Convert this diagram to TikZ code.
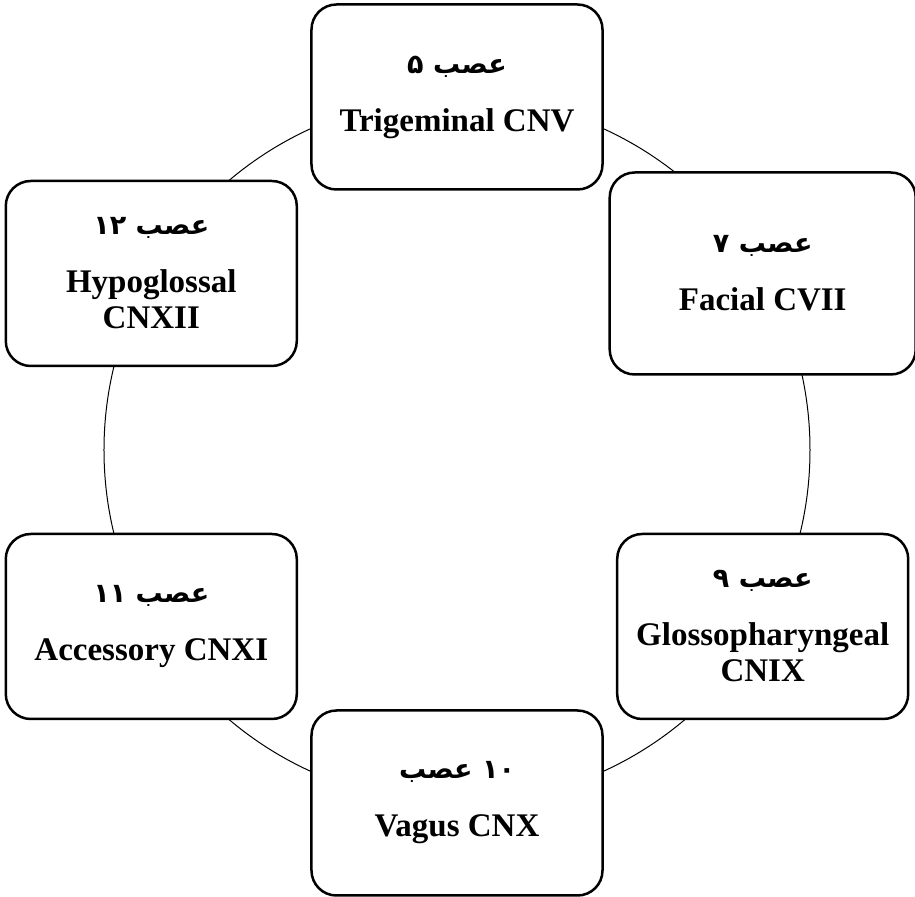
\documentclass[tikz,border=0pt]{standalone}
\usepackage{fontspec}
\setmainfont{Liberation Serif}
\newfontfamily\arabicfont[Script=Arabic]{DejaVu Sans}
\TeXXeTstate=1
\usetikzlibrary{positioning}
\tikzset{
    nerve/.style={
        draw=black,line width=1.25pt,rounded corners=12.5pt,fill=white,
        minimum width=145.5pt,minimum height=92.5pt,align=center,
        inner sep=0pt,font=\fontsize{16.5}{18}\selectfont\bfseries
    },
    nerve big/.style={
        nerve,minimum width=153pt,minimum height=101pt
    },
    ring/.style={draw=black,line width=0.5pt}
}
\newcommand{\asab}[1]{{\arabicfont\fontsize{13.5}{15}\selectfont\beginR عصب #1\endR}}

\begin{document}
\begin{tikzpicture}
\useasboundingbox (-228.5pt,-223.5pt) rectangle (229pt,225pt);

\coordinate (o) at (0,0);
\draw[ring] (o) circle (176.5pt);

% the six nerves round the ring
\node[nerve] (cnv) at (90:176.5pt) {\asab{۵}\\[11pt] Trigeminal CNV};
\node[nerve big] (cnvii) at (30:176.5pt) {\asab{۷}\\[11pt] Facial CVII};
\node[nerve] (cnix) at (-30:176.5pt) {\asab{۹}\\[11pt] Glossopharyngeal\\ CNIX};
\node[nerve] (cnx) at (-90:176.5pt)
{{\arabicfont\fontsize{13.5}{15}\selectfont\beginR\beginL۱۰\endL{} عصب\endR}\\[11pt] Vagus CNX};
\node[nerve] (cnxi) at (-150:176.5pt) {\asab{\beginL۱۱\endL}\\[11pt] Accessory CNXI};
\node[nerve] (cnxii) at (150:176.5pt) {\asab{\beginL۱۲\endL}\\[11pt] Hypoglossal\\ CNXII};

\end{tikzpicture}
\end{document}
